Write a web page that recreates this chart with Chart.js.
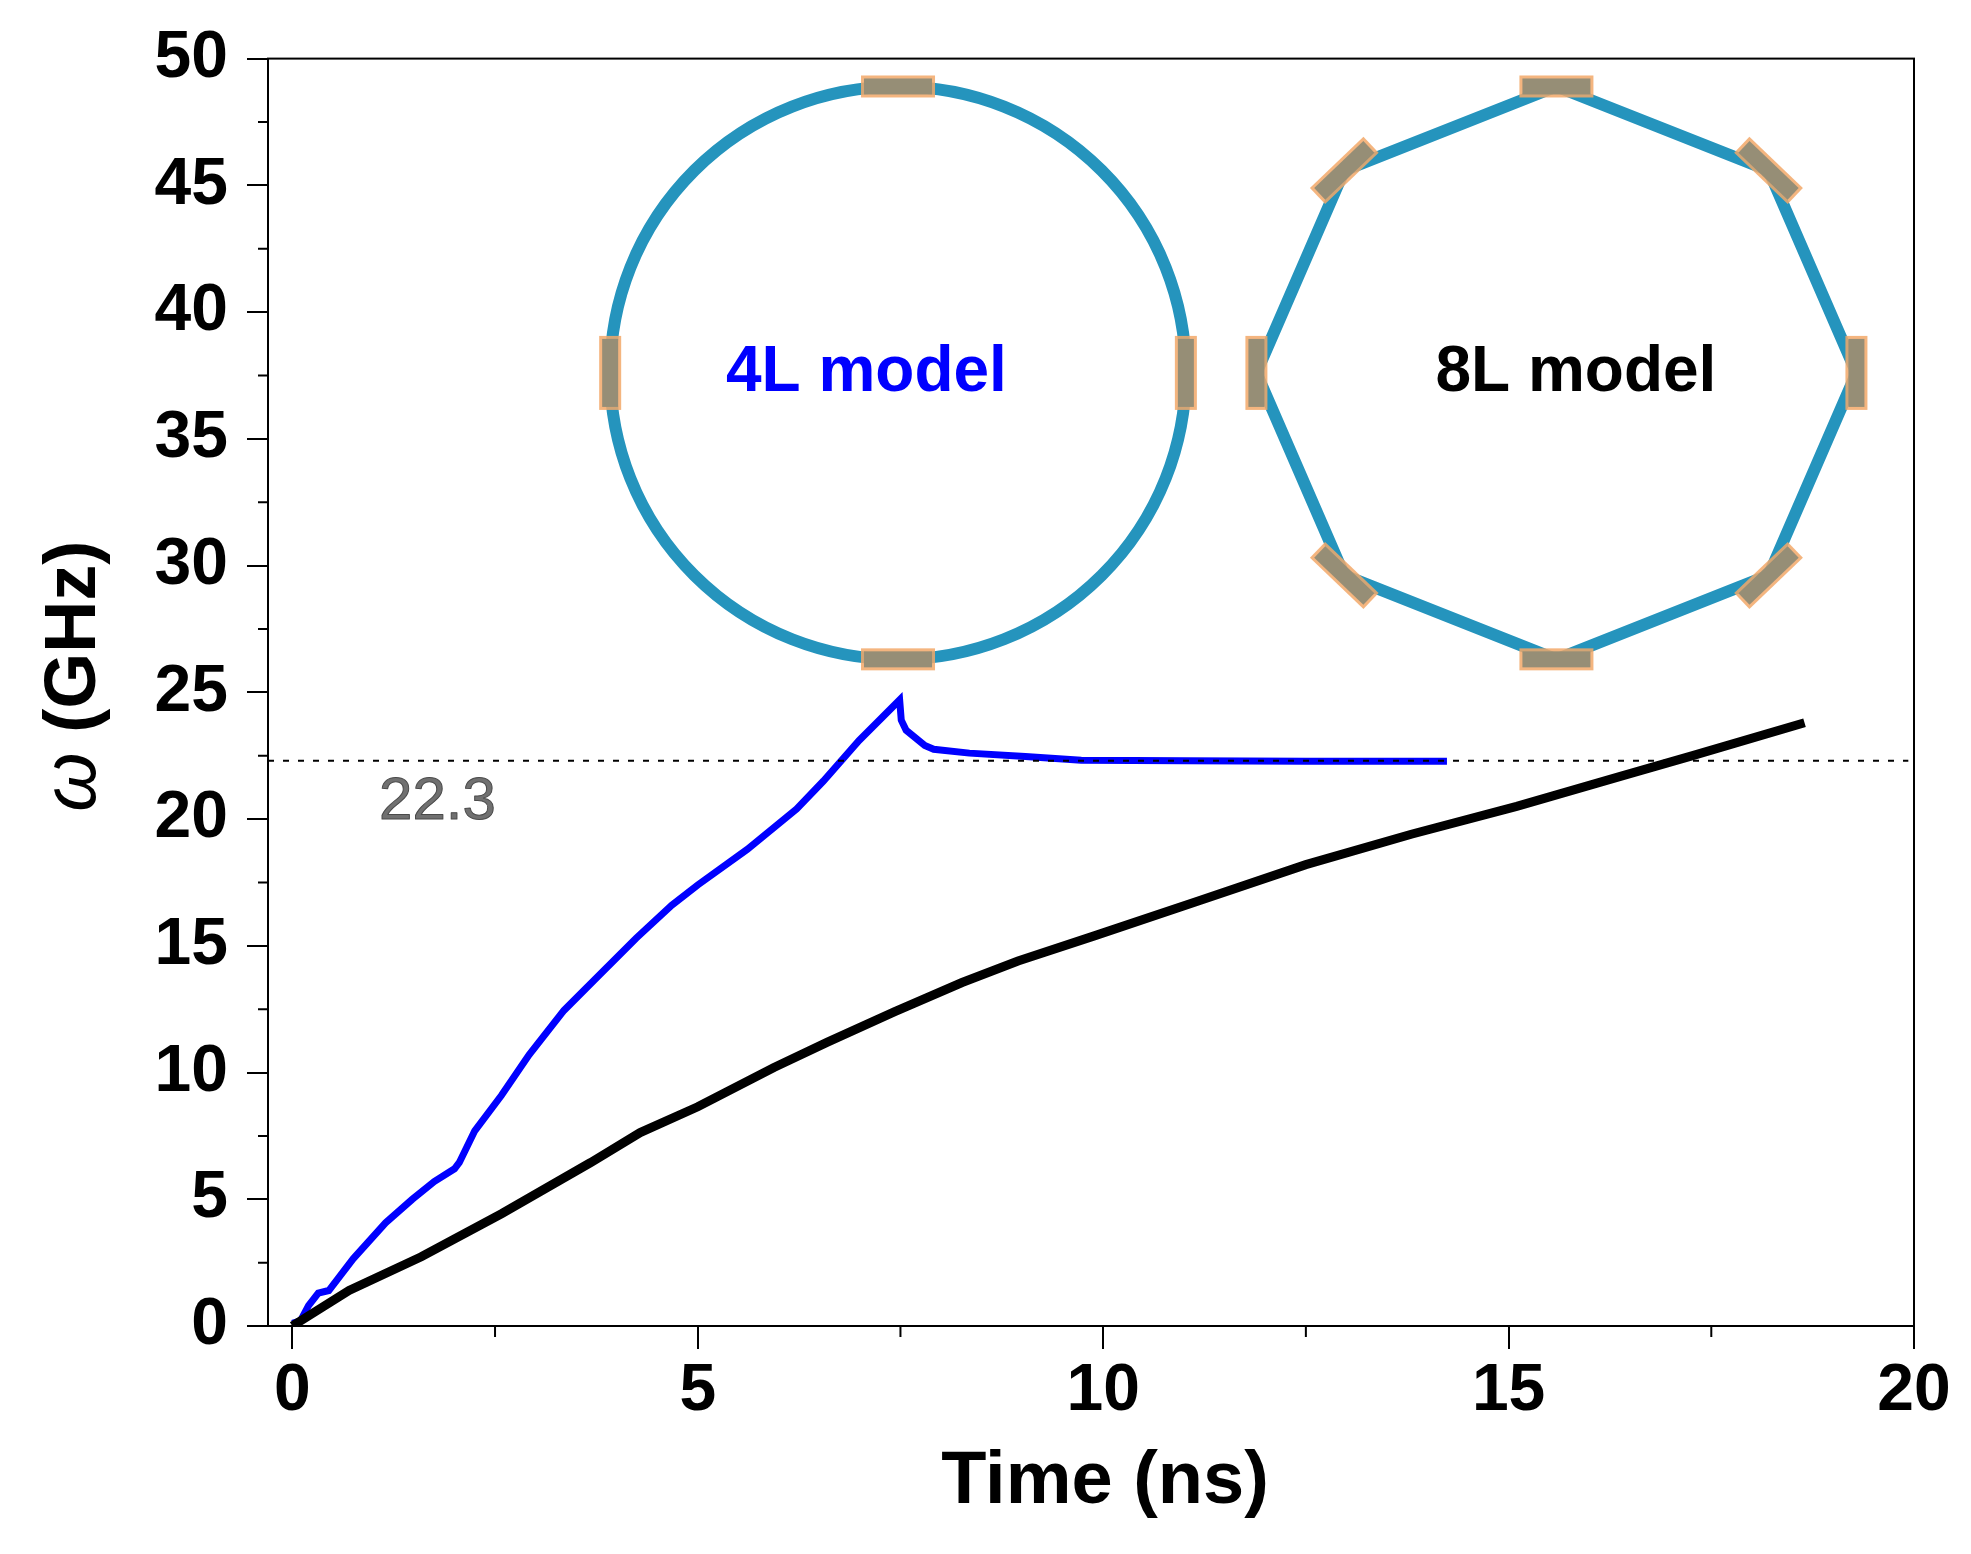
<!DOCTYPE html>
<html>
<head>
<meta charset="utf-8">
<title>Frequency vs time, 4L and 8L models</title>
<script src="https://cdn.jsdelivr.net/npm/chart.js@4.4.1/dist/chart.umd.min.js"></script>
<style>
  html, body { margin: 0; padding: 0; background: #fff; }
  canvas { display: block; }
</style>
</head>
<body>
<canvas id="chart" width="1971" height="1554"></canvas>
<script>
// 4L model (blue): time in ns, omega in GHz
const time4L = [0, 0.1, 0.2, 0.32, 0.45, 0.75, 1.15, 1.48, 1.75, 2.0, 2.06, 2.25, 2.58, 2.92, 3.35, 3.74, 4.24, 4.68, 5.0, 5.61, 6.22, 6.55, 6.99, 7.49, 7.51, 7.57, 7.8, 7.91, 8.35, 9.04, 9.73, 11.0, 12.5, 14.24];
const omega4L = [0.1, 0.2, 0.8, 1.3, 1.4, 2.65, 4.07, 5.0, 5.7, 6.2, 6.45, 7.7, 9.1, 10.7, 12.45, 13.7, 15.3, 16.6, 17.4, 18.8, 20.4, 21.5, 23.1, 24.7, 23.9, 23.5, 22.9, 22.75, 22.6, 22.47, 22.32, 22.3, 22.28, 22.28];

// 8L model (black)
const time8L = [0, 0.7, 1.59, 2.58, 3.68, 4.29, 5.0, 5.94, 6.6, 7.43, 8.26, 8.95, 9.9, 11.2, 12.5, 13.8, 15.1, 16.4, 17.27, 18.65];
const omega8L = [0, 1.4, 2.73, 4.43, 6.45, 7.63, 8.65, 10.2, 11.2, 12.4, 13.55, 14.4, 15.4, 16.8, 18.2, 19.4, 20.5, 21.7, 22.5, 23.8];

// dashed saturation level
const refTime = [-0.3, 19.93];
const refOmega = [22.3, 22.3];
const refLabel = '22.3';

// axes
const xTicks = [0, 5, 10, 15, 20];
const xMinor = [2.5, 7.5, 12.5, 17.5];
const yTicks = [0, 5, 10, 15, 20, 25, 30, 35, 40, 45, 50];
const yMinor = [2.5, 7.5, 12.5, 17.5, 22.5, 27.5, 32.5, 37.5, 42.5, 47.5];
const xTitle = 'Time (ns)';
const yTitleSymbol = 'ω';
const yTitleUnit = ' (GHz)';

const FONT = '"Liberation Sans", Arial, sans-serif';

// ring sketches (positions in data units)
const insets = [
  { label: '4L model', color: '#0000ff', cx: 7.47, cy: 37.6, rx: 3.55, ry: 11.3, sides: 0, tx: 7.08, ty: 36.9 },
  { label: '8L model', color: '#000000', cx: 15.59, cy: 37.6, rx: 3.70, ry: 11.3, sides: 8, tx: 15.83, ty: 36.9 },
];

const pts = (xs, ys) => xs.map((x, i) => ({ x: x, y: ys[i] }));

const framePlugin = {
  id: 'frame',
  beforeDatasetsDraw(chart) {
    const { ctx, scales: { x, y } } = chart;
    ctx.save();
    insets.forEach(r => {
      const cx = x.getPixelForValue(r.cx), cy = y.getPixelForValue(r.cy);
      const rx = x.getPixelForValue(r.cx + r.rx) - cx;
      const ry = cy - y.getPixelForValue(r.cy + r.ry);
      const n = r.sides || 4;
      ctx.strokeStyle = '#2594bd';
      ctx.lineWidth = 12;
      ctx.lineJoin = 'round';
      ctx.beginPath();
      if (r.sides) {
        for (let k = 0; k <= n; k++) {
          const a = k * 2 * Math.PI / n;
          const px = cx + rx * Math.cos(a), py = cy - ry * Math.sin(a);
          k ? ctx.lineTo(px, py) : ctx.moveTo(px, py);
        }
      } else {
        ctx.ellipse(cx, cy, rx, ry, 0, 0, 2 * Math.PI);
      }
      ctx.stroke();
      // electrode pads
      for (let k = 0; k < n; k++) {
        const a = k * 2 * Math.PI / n;
        const px = cx + rx * Math.cos(a), py = cy - ry * Math.sin(a);
        const ang = Math.atan2(-ry * Math.cos(a), -rx * Math.sin(a));
        ctx.save();
        ctx.translate(px, py);
        ctx.rotate(ang);
        ctx.fillStyle = 'rgba(242,168,105,0.85)';
        ctx.fillRect(-37, -11, 74, 22);
        ctx.fillStyle = 'rgb(150,142,118)';
        ctx.fillRect(-34, -8, 68, 16);
        ctx.restore();
      }
      ctx.fillStyle = r.color;
      ctx.font = 'bold 64px ' + FONT;
      ctx.textAlign = 'center';
      ctx.textBaseline = 'alphabetic';
      ctx.fillText(r.label, x.getPixelForValue(r.tx), y.getPixelForValue(r.ty));
    });
    // level label
    ctx.font = '60px ' + FONT;
    ctx.textAlign = 'left';
    ctx.fillStyle = '#707070';
    ctx.strokeStyle = '#4a4a4a';
    ctx.lineWidth = 1;
    const lx = x.getPixelForValue(1.07), ly = y.getPixelForValue(20.0);
    ctx.fillText(refLabel, lx, ly);
    ctx.strokeText(refLabel, lx, ly);
    ctx.restore();
  },
  afterDraw(chart) {
    const { ctx, chartArea: a, scales: { x, y } } = chart;
    ctx.save();
    ctx.strokeStyle = '#000';
    ctx.lineWidth = 2;
    ctx.strokeRect(a.left, a.top, a.right - a.left, a.bottom - a.top);
    ctx.beginPath();
    xMinor.forEach(v => {
      const px = x.getPixelForValue(v);
      ctx.moveTo(px, a.bottom);
      ctx.lineTo(px, a.bottom + 11);
    });
    yMinor.forEach(v => {
      const py = y.getPixelForValue(v);
      ctx.moveTo(a.left, py);
      ctx.lineTo(a.left - 10, py);
    });
    ctx.stroke();

    ctx.fillStyle = '#000';
    ctx.textBaseline = 'alphabetic';

    // x title
    ctx.font = 'bold 74px ' + FONT;
    ctx.textAlign = 'center';
    ctx.fillText(xTitle, (a.left + a.right) / 2 + 14, a.bottom + 177);

    // y title: italic omega + bold unit, rotated
    const symFont = 'italic 76px ' + FONT;
    const unitFont = 'bold 72px ' + FONT;
    ctx.font = symFont;
    const w1 = ctx.measureText(yTitleSymbol).width;
    ctx.font = unitFont;
    const w2 = ctx.measureText(yTitleUnit).width;
    ctx.translate(95, (a.top + a.bottom) / 2 - 16);
    ctx.rotate(-Math.PI / 2);
    ctx.textAlign = 'left';
    const u0 = -(w1 + w2) / 2;
    ctx.font = symFont;
    ctx.fillText(yTitleSymbol, u0, 0);
    ctx.font = unitFont;
    ctx.fillText(yTitleUnit, u0 + w1, 0);
    ctx.restore();
  }
};

new Chart(document.getElementById('chart'), {
  type: 'scatter',
  data: {
    datasets: [
      { data: pts(refTime, refOmega), showLine: true, borderColor: '#000', borderWidth: 2, borderDash: [6, 9], pointRadius: 0 },
      { data: pts(time8L, omega8L), showLine: true, borderColor: '#000', borderWidth: 9, pointRadius: 0 },
      { data: pts(time4L, omega4L), showLine: true, borderColor: '#0000ff', borderWidth: 7, pointRadius: 0 },
    ]
  },
  options: {
    responsive: false,
    devicePixelRatio: 1,
    animation: false,
    layout: { padding: { top: 57, right: 57, left: 0, bottom: 0 } },
    plugins: { legend: { display: false }, tooltip: { enabled: false } },
    scales: {
      x: {
        type: 'linear', min: -0.3, max: 20,
        afterBuildTicks: s => { s.ticks = xTicks.map(v => ({ value: v })); },
        afterFit: s => { s.height = 228; },
        grid: { drawOnChartArea: false, tickLength: 23, color: '#000', lineWidth: 2 },
        border: { color: '#000', width: 2 },
        ticks: { autoSkip: false, maxRotation: 0, padding: 3, color: '#000', font: { family: FONT, size: 66, weight: 'bold' } },
        title: { display: false }
      },
      y: {
        type: 'linear', min: 0, max: 50,
        afterBuildTicks: s => { s.ticks = yTicks.map(v => ({ value: v })); },
        afterFit: s => { s.width = 268; },
        grid: { drawOnChartArea: false, tickLength: 21, color: '#000', lineWidth: 2 },
        border: { color: '#000', width: 2 },
        ticks: { autoSkip: false, padding: 19, color: '#000', font: { family: FONT, size: 66, weight: 'bold' } },
        title: { display: false }
      }
    }
  },
  plugins: [framePlugin]
});
</script>
</body>
</html>
